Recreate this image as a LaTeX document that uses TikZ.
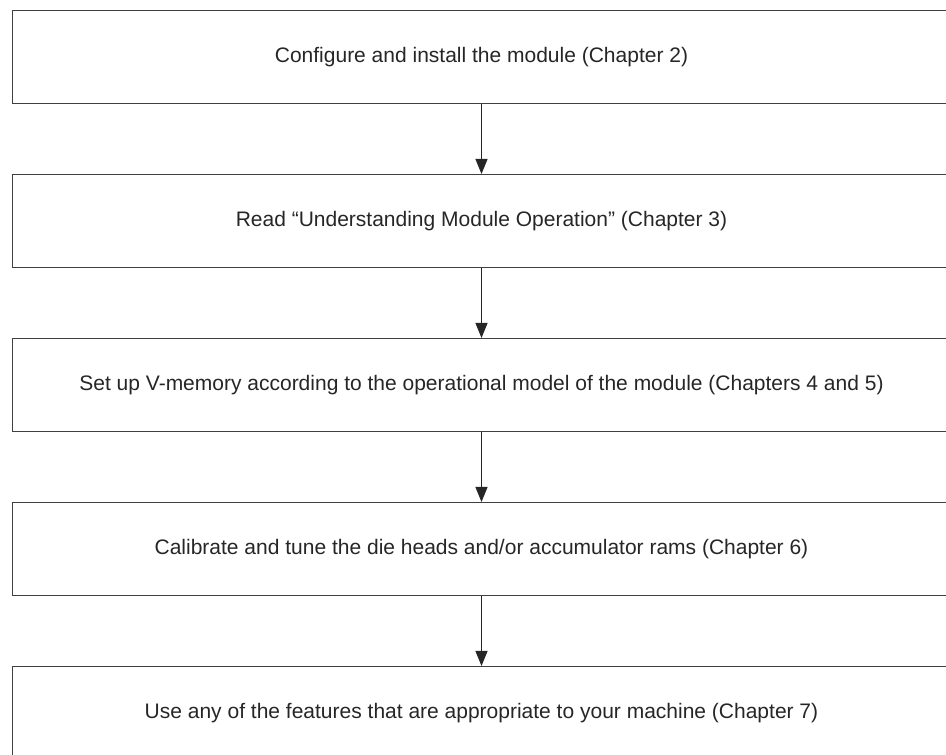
\documentclass[tikz,border=0pt]{standalone}
\usepackage{fontspec}
\setmainfont{Liberation Sans}
\usepackage{tikz}
\usetikzlibrary{positioning,arrows.meta}

\begin{document}
\begin{tikzpicture}[x=1pt,y=1pt,
    stepbox/.style={draw=black!75, line width=1pt, minimum width=938pt, minimum height=93pt,
        inner sep=0pt, font=\fontsize{21}{25}\selectfont, text=black!85},
    flow/.style={draw=black!85, line width=1pt, -{Triangle[width=12pt,length=15pt]}}]
    \useasboundingbox (0,0) rectangle (946,755);

    % Steps
    \node[stepbox, anchor=north west] (s1) at (12,745) {Configure and install the module (Chapter 2)};
    \node[stepbox, below=70pt of s1] (s2) {Read “Understanding Module Operation” (Chapter 3)};
    \node[stepbox, below=70pt of s2] (s3) {Set up V-memory according to the operational model of the module (Chapters 4 and 5)};
    \node[stepbox, below=70pt of s3] (s4) {Calibrate and tune the die heads and/or accumulator rams (Chapter 6)};
    \node[stepbox, below=70pt of s4] (s5) {Use any of the features that are appropriate to your machine (Chapter 7)};

    % Arrows
    \draw[flow] (s1) -- (s2);
    \draw[flow] (s2) -- (s3);
    \draw[flow] (s3) -- (s4);
    \draw[flow] (s4) -- (s5);
\end{tikzpicture}
\end{document}
